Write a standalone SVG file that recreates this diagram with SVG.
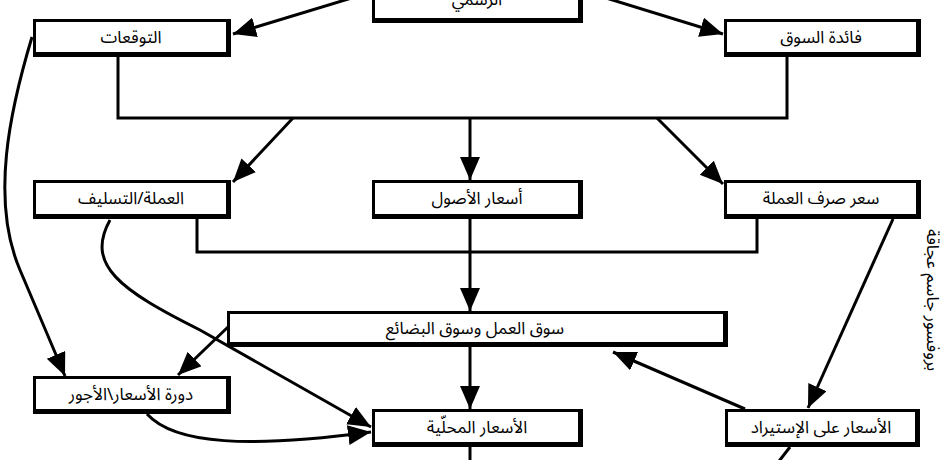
<svg xmlns="http://www.w3.org/2000/svg" width="950" height="460" viewBox="0 0 950 460">
<style>
.bo{fill:#000}
.bi{fill:#fff}
.t{font-family:"Noto Sans Arabic","DejaVu Sans",sans-serif;font-size:17px;fill:#000;text-anchor:middle;direction:rtl}
.c{fill:none;stroke:#000;stroke-width:3}
.a{marker-end:url(#ah)}
</style>
<defs>
<marker id="ah" markerUnits="userSpaceOnUse" markerWidth="26" markerHeight="22" refX="23" refY="10" orient="auto"><path d="M0,0 L23,10 L0,20 z" fill="#000"/></marker>
</defs>
<rect width="950" height="460" fill="#fff"/>
<g id="connectors">
<path class="c a" d="M378,-10 L233,34"/>
<path class="c a" d="M580,-10 L723,34"/>
<path class="c" stroke-width="3.5" d="M118,57 V118 H787 V57"/>
<path class="c a" d="M293,118 L233,182"/>
<path class="c a" d="M470,118 V180"/>
<path class="c a" d="M657,118 L723,184"/>
<path class="c" stroke-width="3.5" d="M197,219 V252 H757 V219"/>
<path class="c a" d="M470,219 V311"/>
<path class="c a" d="M470,347 V409"/>
<path class="c a" d="M228,327 L178,375"/>
<path class="c a" d="M32,37 C10,110 -10,200 20,270 L65,376"/>
<path class="c a" d="M110,220 C85,265 120,290 200,330 L371,427"/>
<path class="c a" d="M147,414 C175,445 250,448 371,432"/>
<path class="c a" d="M893,219 L808,408"/>
<path class="c a" d="M745,409 L613,352"/>
<path class="c" d="M470,447 V465"/>
<path class="c" d="M790,447 L776,465"/>
</g>
<g id="n-top"><rect class="bo" x="372" y="-20" width="211" height="43"/><rect class="bi" x="375" y="-17" width="203" height="35"/><text class="t" x="477" y="5">الرسمي</text></g>
<g id="n-expect"><rect class="bo" x="33" y="19" width="198" height="38"/><rect class="bi" x="36" y="22" width="190" height="30"/><text class="t" x="131" y="43">التوقعات</text></g>
<g id="n-market"><rect class="bo" x="724" y="19" width="197" height="38"/><rect class="bi" x="727" y="22" width="189" height="30"/><text class="t" x="821" y="43">فائدة السوق</text></g>
<g id="n-credit"><rect class="bo" x="33" y="180" width="198" height="39"/><rect class="bi" x="36" y="183" width="190" height="31"/><text class="t" x="131" y="204">العملة/التسليف</text></g>
<g id="n-assets"><rect class="bo" x="372" y="180" width="211" height="39"/><rect class="bi" x="375" y="183" width="203" height="31"/><text class="t" x="477" y="204">أسعار الأصول</text></g>
<g id="n-fx"><rect class="bo" x="724" y="180" width="197" height="39"/><rect class="bi" x="727" y="183" width="189" height="31"/><text class="t" x="821" y="204">سعر صرف العملة</text></g>
<g id="n-labor"><rect class="bo" x="227" y="311" width="501" height="36"/><rect class="bi" x="230" y="314" width="493" height="28"/><text class="t" x="475" y="334">سوق العمل وسوق البضائع</text></g>
<g id="n-cycle"><rect class="bo" x="33" y="376" width="198" height="38"/><rect class="bi" x="36" y="379" width="190" height="30"/><text class="t" x="131" y="400">دورة الأسعار\الأجور</text></g>
<g id="n-local"><rect class="bo" x="372" y="409" width="211" height="38"/><rect class="bi" x="375" y="412" width="203" height="30"/><text class="t" x="477" y="433">الأسعار المحلّية</text></g>
<g id="n-import"><rect class="bo" x="725" y="409" width="195" height="38"/><rect class="bi" x="728" y="412" width="187" height="30"/><text class="t" x="821" y="433">الأسعار على الإستيراد</text></g>
<text class="t" transform="translate(927,300) rotate(90)" x="0" y="0">بروفسور جاسم عجاقة</text>
</svg>
